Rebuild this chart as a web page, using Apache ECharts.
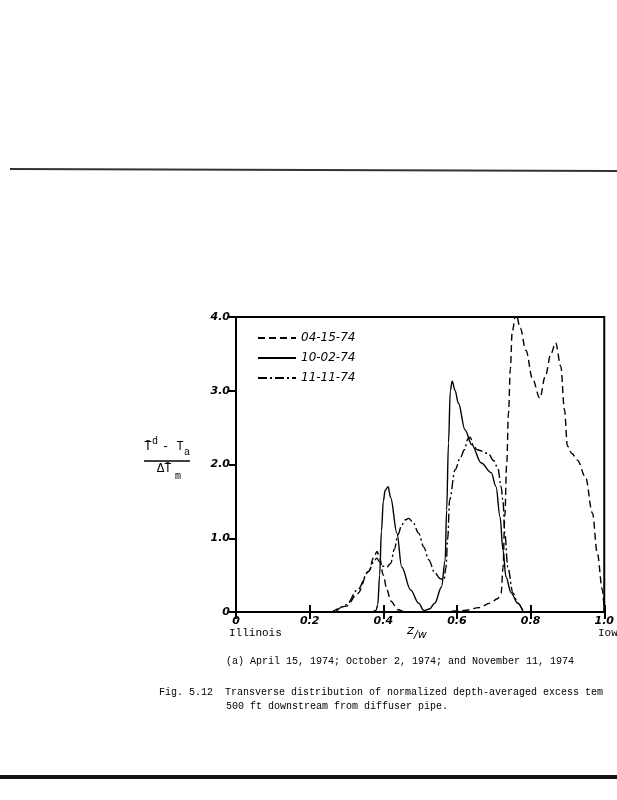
<!DOCTYPE html>
<html><head><meta charset="utf-8">
<script src="https://cdn.jsdelivr.net/npm/echarts@6/dist/echarts.min.js"></script>
<style>html,body{margin:0;padding:0;background:#fff}#c{width:617px;height:800px}</style>
</head><body><div id="c"></div>
<script>
// Series names
const seriesNames = ['04-15-74', '10-02-74', '11-11-74'];
// 04-15-74 (dashed): [z/w, value]
const s0415 = [[0.26,0],[0.30,0.08],[0.33,0.25],[0.36,0.55],[0.375,0.75],[0.383,0.82],[0.39,0.74],[0.40,0.5],[0.41,0.3],[0.42,0.15],[0.44,0.03],[0.46,0],[0.55,0],[0.62,0.02],[0.66,0.06],[0.69,0.12],[0.71,0.18],[0.72,0.25],[0.725,0.6],[0.73,1.3],[0.735,2.0],[0.74,2.7],[0.745,3.3],[0.75,3.8],[0.76,4.05],[0.772,3.85],[0.787,3.55],[0.806,3.15],[0.825,2.9],[0.84,3.2],[0.855,3.5],[0.868,3.65],[0.882,3.33],[0.892,2.74],[0.90,2.25],[0.912,2.15],[0.927,2.06],[0.949,1.83],[0.968,1.34],[0.981,0.8],[0.995,0.3],[1.0,0]];
// 10-02-74 (solid)
const s1002 = [[0.37,0],[0.38,0.02],[0.385,0.1],[0.39,0.5],[0.395,1.1],[0.40,1.5],[0.405,1.65],[0.413,1.70],[0.42,1.55],[0.437,1.07],[0.45,0.61],[0.474,0.3],[0.496,0.12],[0.51,0.02],[0.525,0.04],[0.54,0.12],[0.558,0.34],[0.568,0.7],[0.572,1.38],[0.577,2.29],[0.582,3.0],[0.587,3.13],[0.595,3.0],[0.604,2.83],[0.622,2.47],[0.64,2.27],[0.666,2.02],[0.693,1.89],[0.706,1.7],[0.717,1.29],[0.725,0.84],[0.733,0.48],[0.747,0.26],[0.765,0.12],[0.78,0]];
// 11-11-74 (dash-dot)
const s1111 = [[0.27,0],[0.30,0.1],[0.33,0.3],[0.36,0.55],[0.375,0.69],[0.382,0.73],[0.39,0.68],[0.40,0.62],[0.41,0.61],[0.42,0.66],[0.43,0.85],[0.44,1.05],[0.45,1.18],[0.46,1.25],[0.469,1.27],[0.48,1.22],[0.496,1.07],[0.51,0.88],[0.523,0.71],[0.54,0.53],[0.555,0.45],[0.565,0.44],[0.57,0.6],[0.575,1.0],[0.58,1.52],[0.595,1.93],[0.61,2.1],[0.62,2.2],[0.63,2.35],[0.636,2.37],[0.645,2.25],[0.655,2.2],[0.685,2.15],[0.70,2.05],[0.711,1.95],[0.72,1.7],[0.725,1.5],[0.73,1.07],[0.738,0.61],[0.752,0.26],[0.765,0.12],[0.78,0]];
// Axis ticks
const xTicks = [0, 0.2, 0.4, 0.6, 0.8, 1.0];
const yTicks = [0, 1, 2, 3, 4];

const chart = echarts.init(document.getElementById('c'), null, {renderer:'canvas'});
const tickFont = {fontFamily:'DejaVu Sans', fontStyle:'italic', fontWeight:'bold', fontSize:11, color:'#000'};
const mono = 'Liberation Mono';
function line(type, data, name){
  return {name, type:'line', data, smooth:0.35, smoothMonotone:'x', showSymbol:false, symbol:'none',
    color:'#000', itemStyle:{color:'#000'},
    lineStyle:{color:'#000', width:1.4, type}, xAxisIndex:0, yAxisIndex:0};
}
const option = {
  backgroundColor:'#fff',
  animation:false,
  color:['#000','#000','#000'],
  grid:{left:236, right:10, top:317, bottom:188, show:true, borderColor:'#000', borderWidth:2, backgroundColor:'transparent'},
  legend:{orient:'vertical', left:252, top:327, itemWidth:38, itemHeight:10, itemGap:8,
    itemStyle:{opacity:0}, 
    data:seriesNames, textStyle:{fontFamily:'DejaVu Sans', fontStyle:'italic', fontSize:12, color:'#000'}},
  xAxis:[
    {type:'value', min:xTicks[0], max:xTicks[xTicks.length-1], interval:0.2, position:'bottom',
     axisLine:{show:true, lineStyle:{color:'#000', width:2}}, axisTick:{inside:true, length:7, lineStyle:{color:'#000', width:2}},
     splitLine:{show:false}, axisLabel:{...tickFont, margin:4, formatter:v=>v===0?'0':v.toFixed(1)}},
    {type:'value', min:0, max:1, interval:0.2, position:'top',
     axisLine:{show:true, lineStyle:{color:'#000', width:2}}, axisTick:{inside:true, length:7, lineStyle:{color:'#000', width:2}},
     splitLine:{show:false}, axisLabel:{show:false}}
  ],
  yAxis:[
    {type:'value', min:yTicks[0], max:yTicks[yTicks.length-1], interval:1, position:'left',
     axisLine:{show:true, lineStyle:{color:'#000', width:2}}, axisTick:{inside:false, length:5, lineStyle:{color:'#000', width:2}},
     splitLine:{show:false}, axisLabel:{...tickFont, margin:6, formatter:v=>v===0?'0':v.toFixed(1)}},
    {type:'value', min:0, max:4, interval:1, position:'right',
     axisLine:{show:true, lineStyle:{color:'#000', width:2}}, axisTick:{inside:true, length:7, lineStyle:{color:'#000', width:2}},
     splitLine:{show:false}, axisLabel:{show:false}}
  ],
  series:[
    line([7,4], s0415, seriesNames[0]),
    line('solid', s1002, seriesNames[1]),
    line([9,3,2,3], s1111, seriesNames[2])
  ],
  graphic:[
    // y-axis name as fraction
    {type:'text', left:144, top:440, style:{text:'T\u0304', font:'13px '+mono, fill:'#000'}},
    {type:'text', left:152, top:436, style:{text:'d', font:'10px '+mono, fill:'#000'}},
    {type:'text', left:162, top:441, style:{text:'- T', font:'12px '+mono, fill:'#000'}},
    {type:'text', left:184, top:447, style:{text:'a', font:'10px '+mono, fill:'#000'}},
    {type:'line', shape:{x1:144, y1:461, x2:190, y2:461}, style:{stroke:'#000', lineWidth:1.5}},
    {type:'text', left:157, top:463, style:{text:'\u0394T\u0304', font:'12px '+mono, fill:'#000'}},
    {type:'text', left:175, top:471, style:{text:'m', font:'10px '+mono, fill:'#000'}},
    // x-axis name
    {type:'text', left:407, top:624, style:{text:'z', font:'italic 13px DejaVu Sans', fill:'#000'}},
    {type:'text', left:414, top:630, style:{text:'/w', font:'italic 11px DejaVu Sans', fill:'#000'}},
    {type:'text', left:229, top:628, style:{text:'Illinois', font:'11px '+mono, fill:'#000'}},
    {type:'text', left:598, top:628, style:{text:'Iow.', font:'11px '+mono, fill:'#000'}},
    // captions
    {type:'text', left:226, top:656, style:{text:'(a) April 15, 1974; October 2, 1974; and November 11, 1974', font:'10px '+mono, fill:'#000'}},
    {type:'text', left:159, top:687, style:{text:'Fig. 5.12  Transverse distribution of normalized depth-averaged excess tem', font:'10px '+mono, fill:'#000'}},
    {type:'text', left:226, top:701, style:{text:'500 ft downstream from diffuser pipe.', font:'10px '+mono, fill:'#000'}},
    // scan edge lines
    {type:'line', shape:{x1:10, y1:169, x2:617, y2:171}, style:{stroke:'#333', lineWidth:2}},
    {type:'rect', shape:{x:0, y:775, width:617, height:4}, style:{fill:'#111'}}
  ]
};
chart.setOption(option);
</script>
</body></html>
